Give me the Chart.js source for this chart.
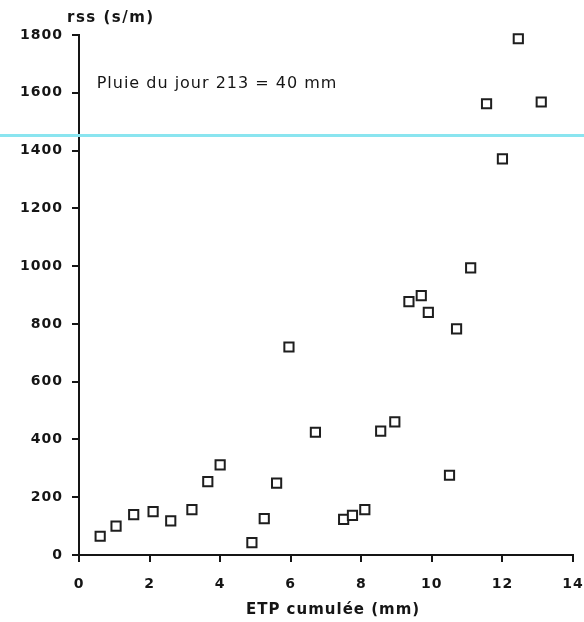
<!DOCTYPE html>
<html>
<head>
<meta charset="utf-8">
<script src="https://cdn.jsdelivr.net/npm/chart.js@4/dist/chart.umd.min.js"></script>
<style>
  html, body { margin: 0; padding: 0; background: #ffffff; }
  #wrap { width: 584px; height: 622px; position: relative; }
</style>
</head>
<body>
<div id="wrap"><canvas id="c" width="584" height="622"></canvas></div>
<script>
// ETP cumulée (mm)
const etpCumulee = [0.6, 1.05, 1.55, 2.1, 2.6, 3.2, 3.65, 4.0, 4.9, 5.25, 5.6, 5.95, 6.7, 7.5,
                    7.75, 8.1, 8.55, 8.95, 9.35, 9.7, 9.9, 10.5, 10.7, 11.1, 11.55, 12.0, 12.45, 13.1];
// rss (s/m)
const rssValues  = [65, 100, 140, 150, 118, 157, 254, 312, 43, 126, 249, 720, 425, 123,
                    137, 157, 429, 461, 877, 898, 840, 276, 783, 994, 1562, 1371, 1787, 1568];
const xAxisRange = [0, 14];
const yAxisRange = [0, 1800];
const xStep = 2;
const yStep = 200;
const rainLineLevel = 1455;
const annotationText = "Pluie du jour 213 = 40 mm";
const annotationPos = [0.5, 1630];
const yTitleText = "rss (s/m)";
const xTitleText = "ETP cumulée (mm)";

const INK = '#151515';

const spacingPlugin = {
  id: 'spacing',
  beforeDraw(chart) {
    chart.ctx.letterSpacing = '1px';
  }
};

const overlayPlugin = {
  id: 'overlay',
  afterDraw(chart) {
    const ctx = chart.ctx;
    const xs = chart.scales.x, ys = chart.scales.y;
    const area = chart.chartArea;
    ctx.save();
    // cyan horizontal line
    const ly = Math.round(ys.getPixelForValue(rainLineLevel)) + 0.5;
    ctx.strokeStyle = '#8ae5f0';
    ctx.lineWidth = 3;
    ctx.beginPath();
    ctx.moveTo(0, ly);
    ctx.lineTo(chart.width, ly);
    ctx.stroke();
    // annotation
    ctx.fillStyle = INK;
    ctx.letterSpacing = '1px';
    ctx.font = '16px "DejaVu Sans"';
    ctx.textAlign = 'left';
    ctx.textBaseline = 'middle';
    ctx.fillText(annotationText, xs.getPixelForValue(annotationPos[0]), ys.getPixelForValue(annotationPos[1]));
    // y axis title at top
    ctx.font = 'bold 15px "DejaVu Sans"';
    ctx.letterSpacing = '1.5px';
    ctx.fillText(yTitleText, area.left - 12, area.top - 17);
    // x axis title
    ctx.font = 'bold 15px "DejaVu Sans"';
    ctx.letterSpacing = '1px';
    ctx.textAlign = 'center';
    ctx.fillText(xTitleText, xs.getPixelForValue(7.2), area.bottom + 55);
    ctx.restore();
  }
};

new Chart(document.getElementById('c'), {
  type: 'scatter',
  data: {
    datasets: [{
      data: etpCumulee.map((x, i) => ({ x: x, y: rssValues[i] })),
      pointStyle: 'rect',
      pointRadius: 6.5,
      pointBorderWidth: 2,
      pointBackgroundColor: '#ffffff',
      pointBorderColor: '#1e1e1e',
      clip: false
    }]
  },
  options: {
    responsive: false,
    devicePixelRatio: 1,
    animation: false,
    layout: { padding: { top: 35, right: 11, left: 0, bottom: 0 } },
    plugins: { legend: { display: false }, tooltip: { enabled: false } },
    scales: {
      x: {
        type: 'linear',
        min: xAxisRange[0], max: xAxisRange[1],
        afterFit(s) { s.height = 67; s.paddingLeft = 0; s.paddingRight = 0; },
        border: { display: true, color: INK, width: 2 },
        grid: { drawOnChartArea: false, drawTicks: true, tickLength: 7, color: INK, lineWidth: 2 },
        ticks: { stepSize: xStep, padding: 14, color: INK, font: { family: 'DejaVu Sans', size: 14, weight: 'bold' }, maxRotation: 0,
                 callback: v => String(v) }
      },
      y: {
        type: 'linear',
        min: yAxisRange[0], max: yAxisRange[1],
        afterFit(s) { s.width = 79; s.paddingTop = 0; s.paddingBottom = 0; },
        border: { display: true, color: INK, width: 2 },
        grid: { drawOnChartArea: false, drawTicks: true, tickLength: 7, color: INK, lineWidth: 2 },
        ticks: { stepSize: yStep, padding: 9, color: INK, font: { family: 'DejaVu Sans', size: 14, weight: 'bold' },
                 callback: v => String(v) }
      }
    }
  },
  plugins: [spacingPlugin, overlayPlugin]
});
</script>
</body>
</html>
